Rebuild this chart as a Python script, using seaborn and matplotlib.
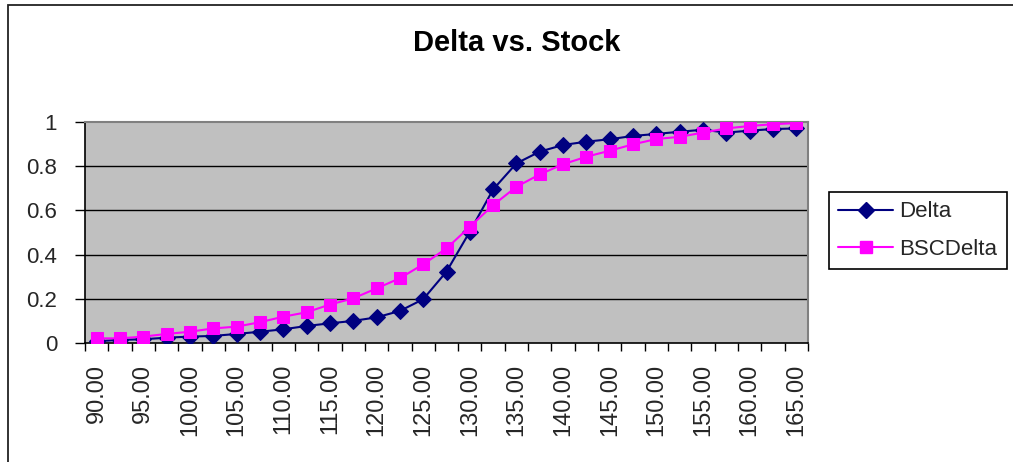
import matplotlib
matplotlib.use("Agg")
import matplotlib.pyplot as plt
import seaborn as sns
import pandas as pd
from matplotlib.lines import Line2D
from matplotlib.patches import Rectangle

# Stock prices (category axis) and the two delta series
stock = [90.0, 92.5, 95.0, 97.5, 100.0, 102.5, 105.0, 107.5, 110.0, 112.5,
         115.0, 117.5, 120.0, 122.5, 125.0, 127.5, 130.0, 132.5, 135.0, 137.5,
         140.0, 142.5, 145.0, 147.5, 150.0, 152.5, 155.0, 157.5, 160.0, 162.5, 165.0]
delta = [0.008, 0.014, 0.017, 0.024, 0.029, 0.032, 0.041, 0.051, 0.062, 0.077,
         0.089, 0.100, 0.116, 0.145, 0.198, 0.323, 0.504, 0.695, 0.813, 0.866,
         0.896, 0.911, 0.922, 0.937, 0.946, 0.956, 0.965, 0.952, 0.961, 0.968, 0.971]
bsc_delta = [0.021, 0.021, 0.029, 0.041, 0.051, 0.066, 0.074, 0.094, 0.119, 0.139,
             0.174, 0.202, 0.247, 0.293, 0.356, 0.428, 0.526, 0.624, 0.707, 0.763,
             0.809, 0.843, 0.870, 0.899, 0.923, 0.933, 0.952, 0.971, 0.982, 0.990, 0.995]
tick_labels = [f"{s:.2f}" for s in stock]

sns.set_theme(style="white")
plt.rcParams["font.family"] = ["Liberation Sans", "DejaVu Sans"]

W, H = 1013, 462
fig = plt.figure(figsize=(W / 100, H / 100), dpi=100)
fig.patch.set_facecolor("white")

# Chart-area border (top and left edges visible)
fig.add_artist(Rectangle((8 / W, -0.1), 1.2, 1 - 5 / H + 0.1,
                         transform=fig.transFigure, fill=False,
                         edgecolor="#222222", linewidth=1.3))

left, right, top, bottom = 85, 808, 122, 343
ax = fig.add_axes([left / W, 1 - bottom / H, (right - left) / W, (bottom - top) / H])
ax.set_facecolor("#C0C0C0")

df = pd.DataFrame({"pos": list(range(len(stock))), "delta": delta, "bsc": bsc_delta})

# horizontal gridlines
for g in [0.2, 0.4, 0.6, 0.8]:
    ax.axhline(g, color="#000000", linewidth=1.0, zorder=1)

sns.lineplot(data=df, x="pos", y="delta", ax=ax, color="#000080", linewidth=1.5,
             marker="D", markersize=8.5, markeredgecolor="#000080",
             markerfacecolor="#000080", zorder=3)
sns.lineplot(data=df, x="pos", y="bsc", ax=ax, color="#FF00FF", linewidth=1.5,
             marker="s", markersize=8.0, markeredgecolor="#FF00FF",
             markerfacecolor="#FF00FF", zorder=4)

ax.set_xlim(-0.5, len(stock) - 0.5)
ax.set_ylim(0, 1)
ax.set_xlabel("")
ax.set_ylabel("")

# category boundaries get tick marks; every other category gets a label
ax.set_xticks([i - 0.5 for i in range(len(stock) + 1)], minor=True)
ax.set_xticks(list(range(0, len(stock), 2)))
ax.set_xticklabels(tick_labels[::2], rotation=90, fontsize=17)
ax.tick_params(axis="x", which="major", length=0, pad=15)
ax.tick_params(axis="x", which="minor", length=6, width=1, color="#000000",
               direction="out", bottom=True)

ax.set_yticks([0, 0.2, 0.4, 0.6, 0.8, 1.0])
ax.set_yticklabels(["0", "0.2", "0.4", "0.6", "0.8", "1"], fontsize=16)
ax.tick_params(axis="y", length=7, width=1, color="#000000", direction="out",
               left=True, pad=13)

for side in ["top", "right"]:
    ax.spines[side].set_color("#808080")
    ax.spines[side].set_linewidth(1.5)
for side in ["left", "bottom"]:
    ax.spines[side].set_color("#000000")
    ax.spines[side].set_linewidth(1.2)

fig.text(517 / W, 1 - 43 / H, "Delta vs. Stock", ha="center", va="center",
         fontsize=21, fontweight="bold", color="black")

handles = [
    Line2D([], [], color="#000080", linewidth=1.5, marker="D", markersize=8.5),
    Line2D([], [], color="#FF00FF", linewidth=1.5, marker="s", markersize=8.0),
]
leg = fig.legend(handles, ["Delta", "BSCDelta"], loc="upper left",
                 bbox_to_anchor=(829 / W, 1 - 192 / H), fontsize=16,
                 frameon=True, fancybox=False, framealpha=1, edgecolor="#000000",
                 handlelength=2.45, handletextpad=0.3, labelspacing=0.75,
                 borderpad=0.42, borderaxespad=0)
leg.get_frame().set_linewidth(1.2)

fig.savefig("out.png", dpi=100)
